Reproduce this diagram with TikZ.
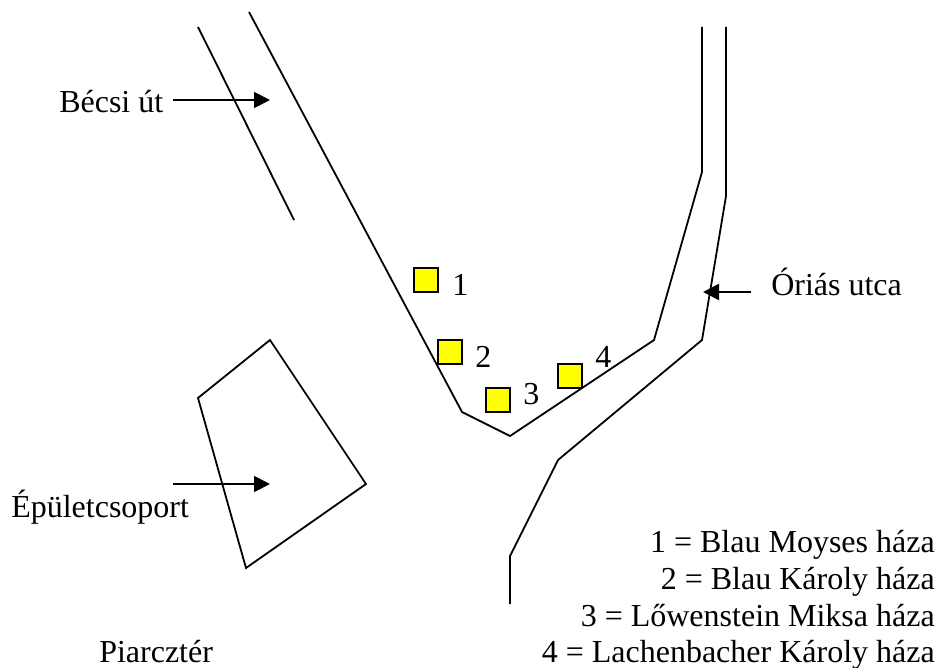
\documentclass[tikz,border=0pt]{standalone}
\usepackage{fontspec}
\setmainfont{Liberation Serif}
\usetikzlibrary{arrows.meta}
\definecolor{houseyellow}{RGB}{255,255,0}
\tikzset{
  road/.style={draw=black,line width=1.35pt,line join=miter},
  house/.style={draw=black,fill=houseyellow,line width=1.35pt,minimum size=24*0.75pt,inner sep=0pt,outer sep=0pt},
  lab/.style={font=\fontsize{24}{28}\selectfont,inner sep=0pt,text=black},
  pointer/.style={draw=black,line width=1.35pt,-{Triangle[length=12pt,width=12pt]}}
}
\begin{document}
\begin{tikzpicture}[x=0.75pt,y=-0.75pt]
\useasboundingbox (0,0) rectangle (938,667);
% roads
\draw[road] (198,27) -- (294,220);
\draw[road] (249,12) -- (462,412) -- (510,436) -- (654,340) -- (702,172) -- (702,27);
\draw[road] (726,27) -- (726,196) -- (702,340) -- (558,460) -- (510,556) -- (510,604);
\draw[road] (198,398) -- (270,340) -- (366,484) -- (246,568) -- cycle;
% houses
\node[house] (h1) at (426,280) {};
\node[house] (h2) at (450,352) {};
\node[house] (h3) at (498,400) {};
\node[house] (h4) at (570,376) {};
\node[lab,anchor=base west] (n1) at (452,295) {1};
\node[lab,anchor=base west] (n2) at (475,367) {2};
\node[lab,anchor=base west] (n3) at (523,404) {3};
\node[lab,anchor=base west] (n4) at (595,367) {4};
% labels
\node[lab,anchor=base west] (becsi) at (59,112) {Bécsi út};
\node[lab,anchor=base west] (orias) at (771,295) {Óriás utca};
\node[lab,anchor=base west] (epulet) at (11,517) {Épületcsoport};
\node[lab,anchor=base west] (piac) at (99,662) {Piarcztér};
\node[lab,anchor=base east] (k1) at (935,552) {1 = Blau Moyses háza};
\node[lab,anchor=base east] (k2) at (935,589) {2 = Blau Károly háza};
\node[lab,anchor=base east] (k3) at (935,626) {3 = Lőwenstein Miksa háza};
\node[lab,anchor=base east] (k4) at (935,662) {4 = Lachenbacher Károly háza};
% pointers
\coordinate (s1) at (173,100);
\coordinate (t1) at (270,100);
\coordinate (s2) at (751,292);
\coordinate (t2) at (703,292);
\coordinate (s3) at (173,484);
\coordinate (t3) at (270,484);
\draw[pointer] (s1) -- (t1);
\draw[pointer] (s2) -- (t2);
\draw[pointer] (s3) -- (t3);
\end{tikzpicture}
\end{document}
